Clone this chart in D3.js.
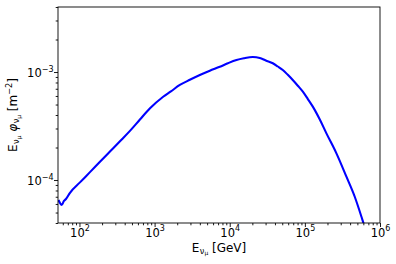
<!DOCTYPE html>
<html>
<head>
<meta charset="utf-8">
<script src="https://cdn.jsdelivr.net/npm/d3@7"></script>
<style>
body { margin: 0; background: #fff; }
text { font-family: "DejaVu Sans", sans-serif; }
</style>
</head>
<body>
<svg id="chart"></svg>
<script>
const width = 396;
const height = 264;
const margin = {left: 58, right: 16, top: 7, bottom: 41};

// neutrino energy [GeV] and E*phi [m^-2]
const energy = [52.6, 55.1, 57.9, 62.2, 66.1, 74.8, 101.6, 138, 187.5, 254.7, 346, 470,
                638, 869, 1300, 1648, 2168, 2944, 4000, 5430, 7380, 9440, 12300, 15420,
                20280, 25120, 30200, 37410, 43650, 50820, 59290, 69020, 80540, 93970,
                109600, 127600, 158100, 193600, 263000, 357300, 461300, 566200, 606700,
                644000];
const flux = [6.53e-5, 6.12e-5, 5.87e-5, 6.40e-5, 6.67e-5, 7.62e-5, 9.51e-5, 1.183e-4,
              1.476e-4, 1.837e-4, 2.286e-4, 2.85e-4, 3.63e-4, 4.61e-4, 5.90e-4, 6.62e-4,
              7.59e-4, 8.47e-4, 9.38e-4, 1.028e-3, 1.119e-3, 1.205e-3, 1.291e-3, 1.34e-3,
              1.377e-3, 1.349e-3, 1.277e-3, 1.205e-3, 1.125e-3, 1.045e-3, 9.42e-4, 8.43e-4,
              7.47e-4, 6.58e-4, 5.62e-4, 4.78e-4, 3.63e-4, 2.704e-4, 1.766e-4, 1.074e-4,
              7.00e-5, 4.57e-5, 3.92e-5, 3.30e-5];

const xLimits = [51.8, 1e6];
const yLimits = [4.0e-5, 4.0e-3];
const xMajor = [1e2, 1e3, 1e4, 1e5, 1e6];
const xMajorExp = ['2', '3', '4', '5', '6'];
const yMajor = [1e-4, 1e-3];
const yMajorExp = ['\u22124', '\u22123'];

const svg = d3.select('#chart')
    .attr('width', width)
    .attr('height', height);

const x = d3.scaleLog().domain(xLimits).range([margin.left, width - margin.right]);
const y = d3.scaleLog().domain(yLimits).range([height - margin.bottom, margin.top]);

const isPow10 = v => Math.abs(Math.log10(v) - Math.round(Math.log10(v))) < 1e-9;
const xMinor = x.ticks(20).filter(v => !isPow10(v));
const yMinor = y.ticks(20).filter(v => !isPow10(v));

svg.append('defs').append('clipPath').attr('id', 'plot-clip')
  .append('rect')
    .attr('x', margin.left).attr('y', margin.top)
    .attr('width', width - margin.left - margin.right)
    .attr('height', height - margin.top - margin.bottom);

svg.append('path')
    .datum(energy.map((e, i) => [e, flux[i]]))
    .attr('clip-path', 'url(#plot-clip)')
    .attr('fill', 'none')
    .attr('stroke', '#0000ff')
    .attr('stroke-width', 2.1)
    .attr('stroke-linejoin', 'round')
    .attr('d', d3.line().curve(d3.curveMonotoneX).x(d => x(d[0])).y(d => y(d[1])));

// axes
const xMinorAxis = svg.append('g').attr('transform', `translate(0, ${height - margin.bottom})`)
    .call(d3.axisBottom(x).tickValues(xMinor).tickSize(2.3).tickFormat(''));
const xAxis = svg.append('g').attr('transform', `translate(0, ${height - margin.bottom})`)
    .call(d3.axisBottom(x).tickValues(xMajor).tickSize(4));
const yMinorAxis = svg.append('g').attr('transform', `translate(${margin.left}, 0)`)
    .call(d3.axisLeft(y).tickValues(yMinor).tickSize(2.3).tickFormat(''));
const yAxis = svg.append('g').attr('transform', `translate(${margin.left}, 0)`)
    .call(d3.axisLeft(y).tickValues(yMajor).tickSize(4));

[xMinorAxis, xAxis, yMinorAxis, yAxis].forEach(g => {
  g.select('.domain').remove();
  g.selectAll('.tick line').attr('stroke', '#000').attr('stroke-width', 0.9);
});

xAxis.selectAll('.tick text').each(function(d, i) {
  const t = d3.select(this).text('')
      .attr('y', 13.6).attr('dy', null)
      .attr('font-size', 11.5).attr('fill', '#000');
  t.append('tspan').text('10');
  t.append('tspan').attr('dy', -5.6).attr('font-size', 8).text(xMajorExp[i]);
});

yAxis.selectAll('.tick text').each(function(d, i) {
  const t = d3.select(this).text('')
      .attr('x', -4.5).attr('dy', 4.6)
      .attr('font-size', 11.5).attr('fill', '#000');
  t.append('tspan').text('10');
  t.append('tspan').attr('dy', -5.6).attr('font-size', 8).text(yMajorExp[i]);
});

// frame
svg.append('rect')
    .attr('x', margin.left).attr('y', margin.top)
    .attr('width', width - margin.left - margin.right)
    .attr('height', height - margin.top - margin.bottom)
    .attr('fill', 'none').attr('stroke', '#000').attr('stroke-width', 0.9);

// x label
const xLabel = svg.append('text')
    .attr('x', (margin.left + width - margin.right) / 2)
    .attr('y', 251.5)
    .attr('text-anchor', 'middle')
    .attr('font-size', 12);
xLabel.append('tspan').text('E');
xLabel.append('tspan').attr('dx', 0.5).attr('dy', 2.4).attr('font-size', 8.2).text('\u03bd');
xLabel.append('tspan').attr('dy', 1.5).attr('font-size', 5.9).text('\u03bc');
xLabel.append('tspan').attr('dy', -3.9).text(' [GeV]');

// y label
const yLabel = svg.append('text')
    .attr('transform', 'translate(16.8, 115) rotate(-90)')
    .attr('text-anchor', 'middle')
    .attr('font-size', 12);
yLabel.append('tspan').text('E');
yLabel.append('tspan').attr('dx', 0.5).attr('dy', 2.4).attr('font-size', 8.2).text('\u03bd');
yLabel.append('tspan').attr('dy', 1.5).attr('font-size', 5.9).text('\u03bc');
yLabel.append('tspan').attr('dy', -3.9).text('  ');
yLabel.append('tspan').attr('font-style', 'italic').text('\u03c6');
yLabel.append('tspan').attr('dx', 0.5).attr('dy', 2.4).attr('font-size', 8.2).text('\u03bd');
yLabel.append('tspan').attr('dy', 1.5).attr('font-size', 5.9).text('\u03bc');
yLabel.append('tspan').attr('dy', -3.9).text(' [m');
yLabel.append('tspan').attr('dy', -4.8).attr('font-size', 8.2).text('\u22122');
yLabel.append('tspan').attr('dy', 4.8).text(']');
</script>
</body>
</html>
